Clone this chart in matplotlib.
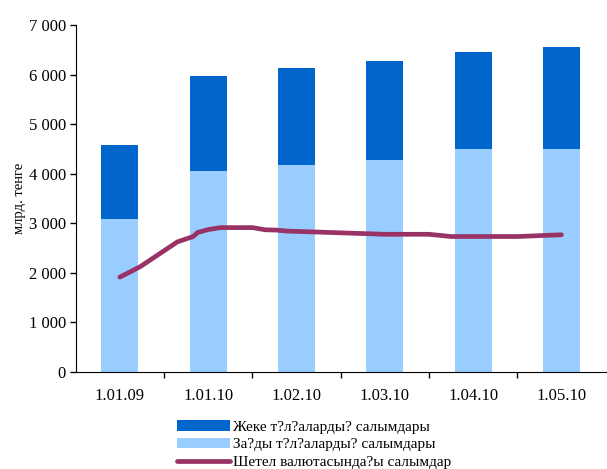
import matplotlib
import matplotlib.pyplot as plt
from matplotlib.ticker import FixedLocator, FuncFormatter, MultipleLocator

matplotlib.use('Agg')

plt.rcParams['font.family'] = 'Liberation Serif'
plt.rcParams['font.size'] = 12

# Data
categories = ['1.01.09', '1.01.10', '1.02.10', '1.03.10', '1.04.10', '1.05.10']
legal_entities = [3090, 4050, 4170, 4270, 4490, 4490]      # light, bottom
individuals = [1490, 1930, 1970, 2010, 1970, 2060]         # dark, stacked on top
# foreign currency deposits (x in category units)
fx_x = [0.0, 0.23, 0.65, 0.83, 0.88, 1.0, 1.14, 1.5, 1.65, 1.77, 1.89,
        3.0, 3.5, 3.75, 4.0, 4.5, 5.0]
fx_y = [1910, 2120, 2620, 2730, 2810, 2870, 2910, 2910, 2865, 2860, 2840,
        2775, 2775, 2730, 2730, 2730, 2765]

labels = ['Жеке т?л?аларды? салымдары',
          'За?ды т?л?аларды? салымдары',
          'Шетел валютасында?ы салымдар']

dark_blue = '#0066CC'
light_blue = '#99CCFF'
plum = '#993366'

fig = plt.figure(figsize=(6.07, 4.69), dpi=100)
ax = fig.add_axes([0.1247, 0.2075, 0.873, 0.739])

x = list(range(len(categories)))
b_dark = ax.bar(x, individuals, bottom=legal_entities, width=0.42,
                color=dark_blue, zorder=2)
b_light = ax.bar(x, legal_entities, width=0.42, color=light_blue, zorder=2)
ln, = ax.plot(fx_x, fx_y, color=plum, linewidth=3.4, solid_capstyle='round',
              solid_joinstyle='round', zorder=3)

ax.set_xlim(-0.5, len(categories) - 0.5)
ax.set_ylim(0, 7000)
ax.yaxis.set_major_locator(MultipleLocator(1000))
ax.yaxis.set_major_formatter(FuncFormatter(lambda v, p: f'{int(v):,}'.replace(',', ' ')))
ax.set_xticks(x)
ax.set_xticklabels(categories)
ax.xaxis.set_minor_locator(FixedLocator([i + 0.5 for i in x[:-1]]))
ax.tick_params(axis='x', which='major', length=0, pad=12)
ax.tick_params(axis='x', which='minor', length=4, width=1)
ax.tick_params(axis='y', length=4, width=1, pad=3)

ax.spines['top'].set_visible(False)
ax.spines['right'].set_visible(False)
ax.set_ylabel('млрд. тенге', fontsize=10.5, labelpad=2)

fig.legend([b_dark, b_light, ln], labels, loc='upper left',
           bbox_to_anchor=(0.279, 0.12), frameon=False, fontsize=11,
           borderpad=0, labelspacing=0.27, handlelength=3.5,
           handletextpad=0.15, handleheight=0.65)

plt.savefig('out.png', dpi=100)
